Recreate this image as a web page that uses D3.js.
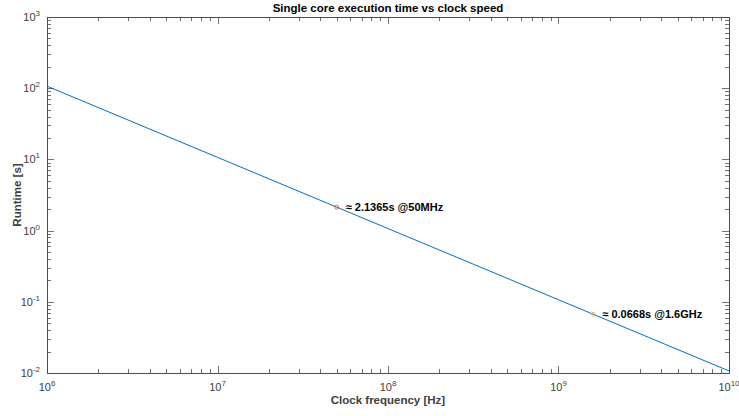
<!DOCTYPE html>
<html>
<head>
<meta charset="utf-8">
<script src="https://cdn.jsdelivr.net/npm/d3@7"></script>
<style>
  body { margin: 0; background: #fff; }
  svg { display: block; font-family: "Liberation Sans", Arial, Helvetica, sans-serif; }
</style>
</head>
<body>
<svg id="chart" width="739" height="416"></svg>
<script>
// ---- Data ----
const frequencyHz = [1e6, 1e7, 1e8, 1e9, 1e10];
const runtimeS = [106.83, 10.683, 1.0683, 0.10683, 0.010683];
const markerFreqs = [50e6, 1.6e9];
const markerRuntimes = [2.1365, 0.0668];
const markerLabels = ["\u2248 2.1365s @50MHz", "\u2248 0.0668s @1.6GHz"];
const markerColors = ["#D95319", "#EDB120"];
const xDecades = [6, 7, 8, 9, 10];
const yDecades = [-2, -1, 0, 1, 2, 3];
const titleText = "Single core execution time vs clock speed";
const xLabelText = "Clock frequency [Hz]";
const yLabelText = "Runtime [s]";

// ---- Layout ----
const W = 739, H = 416;
const L = 47, R = 729, T = 17, B = 373;
const svg = d3.select("#chart");

const x = d3.scaleLog().domain([1e6, 1e10]).range([L, R]);
const y = d3.scaleLog().domain([1e-2, 1e3]).range([B, T]);

const axisColor = "#4d4d4d";
const labelColor = "#404040";

function logTicks(decades) {
  const major = [], minor = [];
  for (let i = 0; i < decades.length; i++) {
    major.push(Math.pow(10, decades[i]));
    if (i < decades.length - 1) {
      for (let k = 2; k <= 9; k++) minor.push(k * Math.pow(10, decades[i]));
    }
  }
  return { major, minor };
}
const xt = logTicks(xDecades);
const yt = logTicks(yDecades);

const g = svg.append("g");

const majLen = 7, minLen = 4;
const tickG = g.append("g").attr("stroke", axisColor).attr("stroke-width", 0.8);
function vTicks(vals, len) {
  vals.forEach(v => {
    const px = Math.round(x(v)) + 0.5;
    tickG.append("line").attr("x1", px).attr("x2", px).attr("y1", B).attr("y2", B - len);
    tickG.append("line").attr("x1", px).attr("x2", px).attr("y1", T).attr("y2", T + len);
  });
}
function hTicks(vals, len) {
  vals.forEach(v => {
    const py = Math.round(y(v)) + 0.5;
    tickG.append("line").attr("y1", py).attr("y2", py).attr("x1", L).attr("x2", L + len);
    tickG.append("line").attr("y1", py).attr("y2", py).attr("x1", R).attr("x2", R - len);
  });
}
vTicks(xt.major, majLen); vTicks(xt.minor, minLen);
hTicks(yt.major, majLen); hTicks(yt.minor, minLen);

g.append("rect").attr("x", L + 0.5).attr("y", T + 0.5)
  .attr("width", R - L).attr("height", B - T)
  .attr("fill", "none").attr("stroke", axisColor).attr("stroke-width", 1);

const line = d3.line().x((d, i) => x(frequencyHz[i])).y((d, i) => y(runtimeS[i]));
g.append("path").datum(runtimeS).attr("d", line)
  .attr("fill", "none").attr("stroke", "#0072BD").attr("stroke-width", 1);

markerFreqs.forEach((f, i) => {
  const cx = x(f), cy = y(markerRuntimes[i]);
  g.append("circle").attr("cx", cx).attr("cy", cy).attr("r", 2)
    .attr("fill", "none").attr("stroke", markerColors[i]).attr("stroke-width", 0.8);
  g.append("text").attr("x", cx + 9).attr("y", cy + 4)
    .attr("font-size", 11).attr("font-weight", "bold").attr("fill", "#000")
    .text(markerLabels[i]);
});

xDecades.forEach(d => {
  const t = g.append("text").attr("x", x(Math.pow(10, d))).attr("y", 391)
    .attr("text-anchor", "middle").attr("fill", labelColor).attr("font-size", 11);
  t.append("tspan").text("10");
  t.append("tspan").attr("dy", -5).attr("font-size", 8).text(d);
});
yDecades.forEach(d => {
  const t = g.append("text").attr("x", L - 7).attr("y", y(Math.pow(10, d)) + 4)
    .attr("text-anchor", "end").attr("fill", labelColor).attr("font-size", 11);
  t.append("tspan").text("10");
  t.append("tspan").attr("dy", -5).attr("font-size", 8).text(d);
});

g.append("text").attr("x", (L + R) / 2).attr("y", 12).attr("text-anchor", "middle")
  .attr("font-size", 11.5).attr("font-weight", "bold").attr("fill", "#000").text(titleText);
g.append("text").attr("x", (L + R) / 2).attr("y", 404).attr("text-anchor", "middle")
  .attr("font-size", 11.5).attr("font-weight", "bold").attr("fill", labelColor).text(xLabelText);
g.append("text").attr("transform", `translate(21,${(T + B) / 2}) rotate(-90)`)
  .attr("text-anchor", "middle")
  .attr("font-size", 11.5).attr("font-weight", "bold").attr("fill", labelColor).text(yLabelText);
</script>
</body>
</html>
